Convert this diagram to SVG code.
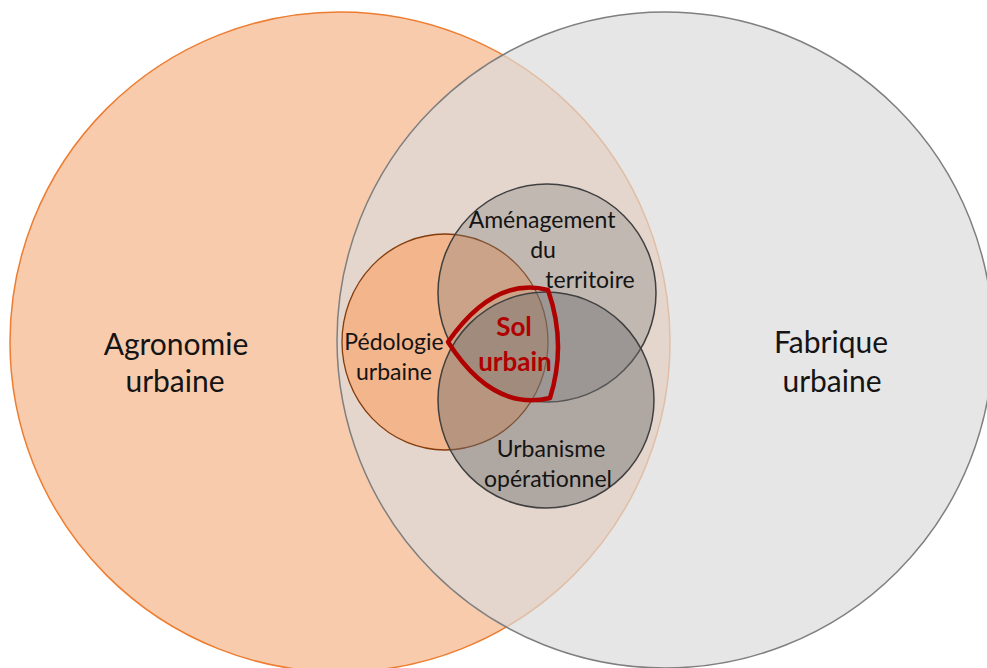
<svg xmlns="http://www.w3.org/2000/svg" width="987" height="668" viewBox="0 0 987 668">
  <style>
    .lbl { font-family: Lato, "Open Sans", "Liberation Sans", sans-serif; fill: #141414; text-anchor: middle; }
    .big { font-size: 30px; }
    .small { font-size: 23px; }
    .sol { font-family: Lato, "Open Sans", "Liberation Sans", sans-serif; font-weight: bold; font-size: 26px; fill: #b00000; text-anchor: middle; }
  </style>
  <rect width="987" height="668" fill="#ffffff"/>
  <g id="agronomie">
    <circle cx="340" cy="342" r="330" fill="#f8cbad" stroke="#ed7d31" stroke-width="1.5"/>
  </g>
  <g id="fabrique">
    <circle cx="665" cy="340" r="328" fill="#dbdbdb" fill-opacity="0.69" stroke="#7f7f7f" stroke-width="1.5"/>
  </g>
  <g id="pedologie">
    <ellipse cx="445" cy="342" rx="103" ry="108" fill="#f4b183" fill-opacity="0.88" stroke="#843c0c" stroke-width="1.3"/>
  </g>
  <g id="amenagement">
    <circle cx="547" cy="293" r="109" fill="#808080" fill-opacity="0.35" stroke="#404040" stroke-width="1.5"/>
  </g>
  <g id="urbanisme">
    <circle cx="546" cy="400" r="108" fill="#6e6e6e" fill-opacity="0.45" stroke="#404040" stroke-width="1.5"/>
  </g>
  <g id="sol-urbain">
    <path d="M 448 342 Q 494 276 548 290 Q 567 344 550 398 Q 493 412 448 342 Z" fill="none" stroke="#b00000" stroke-width="4.5" stroke-linejoin="round"/>
  </g>
  <g id="labels">
    <text class="lbl big" x="176" y="355">Agronomie</text>
    <text class="lbl big" x="175" y="392">urbaine</text>
    <text class="lbl big" x="831" y="353">Fabrique</text>
    <text class="lbl big" x="832" y="392">urbaine</text>
    <text class="lbl small" x="542" y="228">Aménagement</text>
    <text class="lbl small" x="543" y="258">du</text>
    <text class="lbl small" x="590" y="288">territoire</text>
    <text class="lbl small" x="394" y="350">Pédologie</text>
    <text class="lbl small" x="394" y="380">urbaine</text>
    <text class="lbl small" x="551" y="457">Urbanisme</text>
    <text class="lbl small" x="548" y="487">opérationnel</text>
    <text class="sol" x="514" y="336">Sol</text>
    <text class="sol" x="515" y="371">urbain</text>
  </g>
</svg>
